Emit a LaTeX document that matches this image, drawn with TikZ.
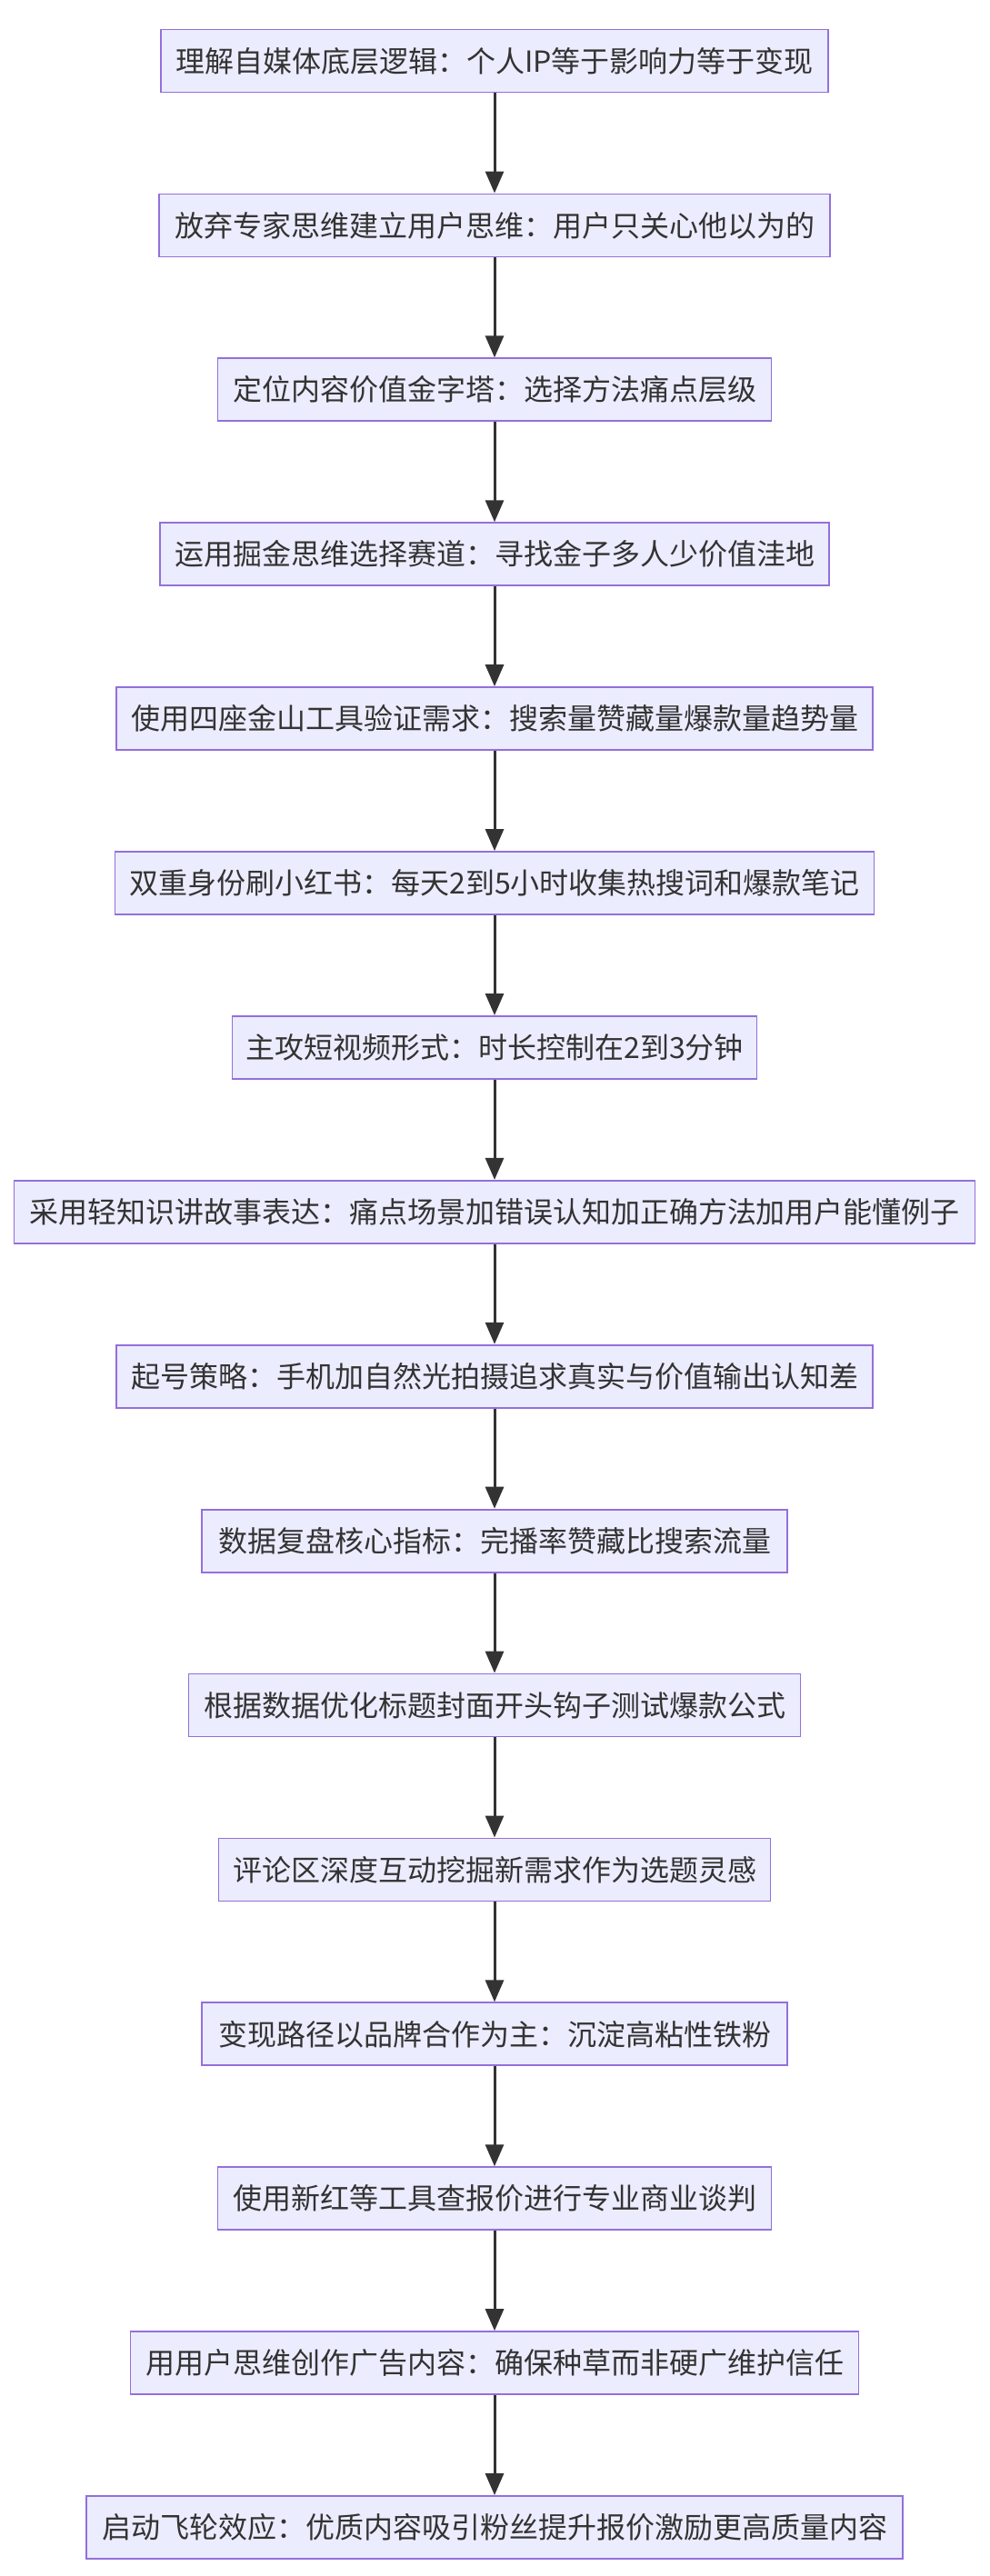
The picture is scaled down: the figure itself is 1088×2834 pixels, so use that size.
\documentclass[tikz,border=0pt]{standalone}
\usepackage{fontspec}
\setmainfont{Noto Sans CJK SC}
\usetikzlibrary{arrows.meta}
\begin{document}
\begin{tikzpicture}[x=1pt,y=-1pt,
  box/.style={draw=cBorder,fill=cFill,line width=1.8pt,minimum height=69pt,inner sep=0pt,font=\fontsize{32}{36}\selectfont,text=cText},
  arr/.style={draw=cArrow,line width=3pt,-{Triangle[length=24pt,width=20pt]}}]
\definecolor{cBorder}{HTML}{9370DB}
\definecolor{cFill}{HTML}{ECECFF}
\definecolor{cArrow}{HTML}{333333}
\definecolor{cText}{HTML}{333333}
\useasboundingbox (0,0) rectangle (1088,2834);
\def\cx{544}
\foreach \i/\w/\t in {
 1/734/{理解自媒体底层逻辑：个人IP等于影响力等于变现},
 2/738/{放弃专家思维建立用户思维：用户只关心他以为的},
 3/609/{定位内容价值金字塔：选择方法痛点层级},
 4/736/{运用掘金思维选择赛道：寻找金子多人少价值洼地},
 5/832/{使用四座金山工具验证需求：搜索量赞藏量爆款量趋势量},
 6/835/{双重身份刷小红书：每天2到5小时收集热搜词和爆款笔记},
 7/577/{主攻短视频形式：时长控制在2到3分钟},
 8/1057/{采用轻知识讲故事表达：痛点场景加错误认知加正确方法加用户能懂例子},
 9/832/{起号策略：手机加自然光拍摄追求真实与价值输出认知差},
 10/644/{数据复盘核心指标：完播率赞藏比搜索流量},
 11/673/{根据数据优化标题封面开头钩子测试爆款公式},
 12/607/{评论区深度互动挖掘新需求作为选题灵感},
 13/644/{变现路径以品牌合作为主：沉淀高粘性铁粉},
 14/609/{使用新红等工具查报价进行专业商业谈判},
 15/801/{用用户思维创作广告内容：确保种草而非硬广维护信任},
 16/898/{启动飞轮效应：优质内容吸引粉丝提升报价激励更高质量内容}}
 {\node[box,minimum width=\w pt] (n\i) at (\cx,{67+180.9*(\i-1)}) {\t};}
\foreach \i [evaluate=\i as \j using int(\i+1)] in {1,...,15}
 {\draw[arr] (n\i) -- (n\j);}
\end{tikzpicture}
\end{document}
